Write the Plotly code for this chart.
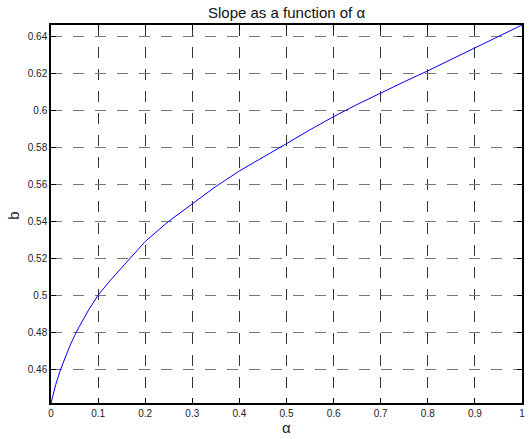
import plotly.graph_objects as go

# Data
alpha = [0.0, 0.01, 0.02, 0.03, 0.04, 0.05, 0.06, 0.08, 0.10, 0.125, 0.15, 0.175,
         0.20, 0.25, 0.30, 0.35, 0.40, 0.45, 0.50, 0.55, 0.60, 0.65, 0.70, 0.75,
         0.80, 0.85, 0.90, 0.95, 1.0]
slope_b = [0.4416, 0.4515, 0.4595, 0.4665, 0.4725, 0.4780, 0.4830, 0.4920, 0.5000, 0.5077, 0.5150, 0.5222,
           0.5290, 0.5400, 0.5495, 0.5588, 0.5672, 0.5748, 0.5820, 0.5895, 0.5966, 0.6032, 0.6095, 0.6155,
           0.6214, 0.6276, 0.6336, 0.6398, 0.6462]

x_ticks = [0, 0.1, 0.2, 0.3, 0.4, 0.5, 0.6, 0.7, 0.8, 0.9, 1]
x_tick_labels = ["0", "0.1", "0.2", "0.3", "0.4", "0.5", "0.6", "0.7", "0.8", "0.9", "1"]
y_ticks = [0.46, 0.48, 0.50, 0.52, 0.54, 0.56, 0.58, 0.60, 0.62, 0.64]
y_tick_labels = ["0.46", "0.48", "0.5", "0.52", "0.54", "0.56", "0.58", "0.6", "0.62", "0.64"]

title_text = "Slope as a function of α"
x_label = "α"
y_label = "b"

FONT = "Liberation Sans, Arial, sans-serif"

fig = go.Figure()
fig.add_trace(go.Scatter(
    x=alpha, y=slope_b, mode="lines",
    line=dict(color="#0000FF", width=1),
    showlegend=False, hoverinfo="skip",
))

axis_common = dict(
    showline=True, linecolor="black", linewidth=1.5, mirror="ticks",
    ticks="inside", ticklen=5, tickcolor="black", tickwidth=1,
    showgrid=True, griddash="11px,11px", gridwidth=1,
    zeroline=False, automargin=False,
    tickfont=dict(family=FONT, size=10, color="#222"),
)

fig.update_xaxes(
    **axis_common,
    range=[0, 1], tickvals=x_ticks, ticktext=x_tick_labels,
    gridcolor="#333",
)
fig.update_yaxes(
    **axis_common,
    range=[0.4416, 0.6462], tickvals=y_ticks, ticktext=y_tick_labels,
    gridcolor="#777",
)

fig.update_layout(
    width=530, height=439,
    margin=dict(l=51, r=8, t=25, b=36, autoexpand=False),
    paper_bgcolor="white", plot_bgcolor="white",
    annotations=[
        dict(text=title_text, xref="paper", yref="paper", x=0.5, y=1.005,
             xanchor="center", yanchor="bottom", showarrow=False,
             font=dict(family=FONT, size=15, color="#111")),
        dict(text=x_label, xref="paper", yref="paper", x=0.5, y=-0.066,
             xanchor="center", yanchor="middle", showarrow=False,
             font=dict(family=FONT, size=15, color="#222")),
        dict(text=y_label, xref="paper", yref="paper", x=-0.0786, y=0.495,
             xanchor="center", yanchor="middle", textangle=-90, showarrow=False,
             font=dict(family=FONT, size=15, color="#222")),
    ],
)

# Remove the browser's default 8px body margin so the figure fills the window.
fig.write_html("out.html", config={"displayModeBar": False},
               post_script="document.body.style.margin='0';")
